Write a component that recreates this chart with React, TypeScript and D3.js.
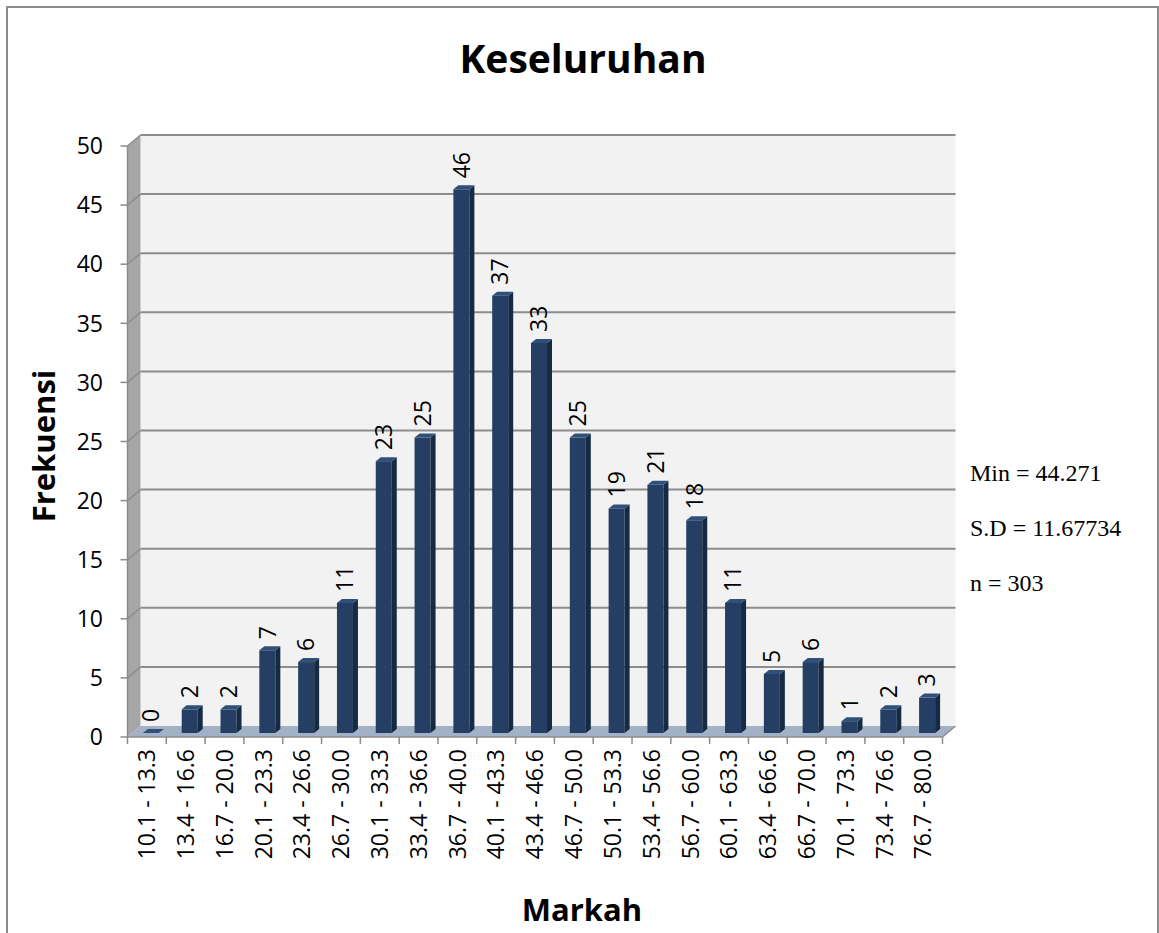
import React from "react";
import * as d3 from "d3";

const categories = [
  "10.1 - 13.3", "13.4 - 16.6", "16.7 - 20.0", "20.1 - 23.3", "23.4 - 26.6",
  "26.7 - 30.0", "30.1 - 33.3", "33.4 - 36.6", "36.7 - 40.0", "40.1 - 43.3",
  "43.4 - 46.6", "46.7 - 50.0", "50.1 - 53.3", "53.4 - 56.6", "56.7 - 60.0",
  "60.1 - 63.3", "63.4 - 66.6", "66.7 - 70.0", "70.1 - 73.3", "73.4 - 76.6",
  "76.7 - 80.0",
];
const frequencies = [0, 2, 2, 7, 6, 11, 23, 25, 46, 37, 33, 25, 19, 21, 18, 11, 5, 6, 1, 2, 3];
const yTicks = [0, 5, 10, 15, 20, 25, 30, 35, 40, 45, 50];
const statLines = ["Min = 44.271", "S.D = 11.67734", "n = 303"];
const title = "Keseluruhan";
const xTitle = "Markah";
const yTitle = "Frekuensi";

const W = 1159;
const H = 933;
const DX = 13;
const DY = -11;
const SANS = "'Open Sans', sans-serif";

export default function App() {
  const x = d3.scaleBand<string>().domain(categories).range([127.5, 942.5]).padding(0);
  const y = d3.scaleLinear().domain([0, 50]).range([737, 146]);
  const bw = x.bandwidth();
  const y0 = y(0);
  const barBase = y0 - 4;
  const unit = y(0) - y(1);

  const frontL = x.range()[0];
  const frontR = x.range()[1];

  return (
    <svg width={W} height={H} style={{ position: "absolute", left: 0, top: 0, background: "#fff" }}>
      <rect x={7} y={7} width={1151} height={940} fill="#fff" stroke="#8c8c8c" strokeWidth={2} />
      {/* back wall */}
      <rect x={frontL + DX} y={y(50) + DY} width={frontR - frontL} height={y0 - y(50)} fill="#f2f2f2" />
      {/* left side wall */}
      <polygon
        points={`${frontL},${y(50)} ${frontL + DX},${y(50) + DY} ${frontL + DX},${y0 + DY} ${frontL},${y0}`}
        fill="#a6a6a6"
      />
      {/* floor */}
      <polygon
        points={`${frontL},${y0} ${frontR},${y0} ${frontR + DX},${y0 + DY} ${frontL + DX},${y0 + DY}`}
        fill="#a3b1c6"
      />
      <line x1={frontR} y1={y0} x2={frontR + DX} y2={y0 + DY} stroke="#8c8c8c" strokeWidth={1.5} />
      {/* gridlines */}
      {yTicks.filter((t) => t > 0).map((t) => (
        <g key={"g" + t}>
          <line x1={frontL + DX} x2={frontR + DX} y1={y(t) + DY} y2={y(t) + DY} stroke="#8c8c8c" strokeWidth={2} />
          <line x1={frontL} x2={frontL + DX} y1={y(t)} y2={y(t) + DY} stroke="#8c8c8c" strokeWidth={1.5} />
        </g>
      ))}
      {/* y axis */}
      <line x1={frontL} x2={frontL} y1={y(50)} y2={y0} stroke="#8c8c8c" strokeWidth={1.5} />
      {yTicks.map((t) => (
        <g key={"yt" + t}>
          <line x1={frontL - 7} x2={frontL} y1={y(t)} y2={y(t)} stroke="#8c8c8c" strokeWidth={1.5} />
          <text x={103} y={y(t)} dy="0.36em" textAnchor="end" fontFamily={SANS} fontSize={23} fill="#000">
            {t}
          </text>
        </g>
      ))}
      {/* x axis */}
      <line x1={frontL} x2={frontR} y1={y0} y2={y0} stroke="#8c8c8c" strokeWidth={1.5} />
      {[...categories.map((c) => x(c) as number), frontR].map((px, i) => (
        <line key={"xt" + i} x1={px} x2={px} y1={y0} y2={y0 + 7} stroke="#8c8c8c" strokeWidth={1.5} />
      ))}
      {/* bars */}
      {categories.map((c, i) => {
        const v = frequencies[i];
        const cx = (x(c) as number) + bw / 2;
        const fx0 = cx - 4;
        const fw = 16;
        const top = barBase - v * unit;
        const dx = 5;
        const dy = -4;
        return (
          <g key={"b" + i}>
            <rect x={fx0} y={top} width={fw} height={barBase - top} fill="#243f63" />
            <polygon
              points={`${fx0 + fw},${top} ${fx0 + fw + dx},${top + dy} ${fx0 + fw + dx},${barBase + dy} ${fx0 + fw},${barBase}`}
              fill="#172a44"
            />
            <polygon
              points={`${fx0},${top} ${fx0 + dx},${top + dy} ${fx0 + fw + dx},${top + dy} ${fx0 + fw},${top}`}
              fill="#30507a"
            />
            <text
              transform={`translate(${cx + 4},${top - 11}) rotate(-90)`}
              dy="0.36em"
              textAnchor="start"
              fontFamily={SANS}
              fontSize={23}
              fill="#000"
            >
              {v}
            </text>
          </g>
        );
      })}
      {/* x labels */}
      {categories.map((c) => (
        <text
          key={"xl" + c}
          transform={`translate(${(x(c) as number) + bw / 2},${y0 + 12}) rotate(-90)`}
          dy="0.36em"
          textAnchor="end"
          fontFamily={SANS}
          fontSize={23}
          fill="#000"
        >
          {c}
        </text>
      ))}
      {/* titles */}
      <text x={583} y={73} textAnchor="middle" fontFamily={SANS} fontWeight="bold" fontSize={39} fill="#000">
        {title}
      </text>
      <text x={582} y={921} textAnchor="middle" fontFamily={SANS} fontWeight="bold" fontSize={31} fill="#000">
        {xTitle}
      </text>
      <text
        transform={`translate(55,446) rotate(-90)`}
        textAnchor="middle"
        fontFamily={SANS}
        fontWeight="bold"
        fontSize={31}
        fill="#000"
      >
        {yTitle}
      </text>
      {statLines.map((s, i) => (
        <text key={s} x={970} y={481 + i * 55} fontFamily="'Liberation Serif', 'Times New Roman', serif" fontSize={24} fill="#000">
          {s}
        </text>
      ))}
    </svg>
  );
}
